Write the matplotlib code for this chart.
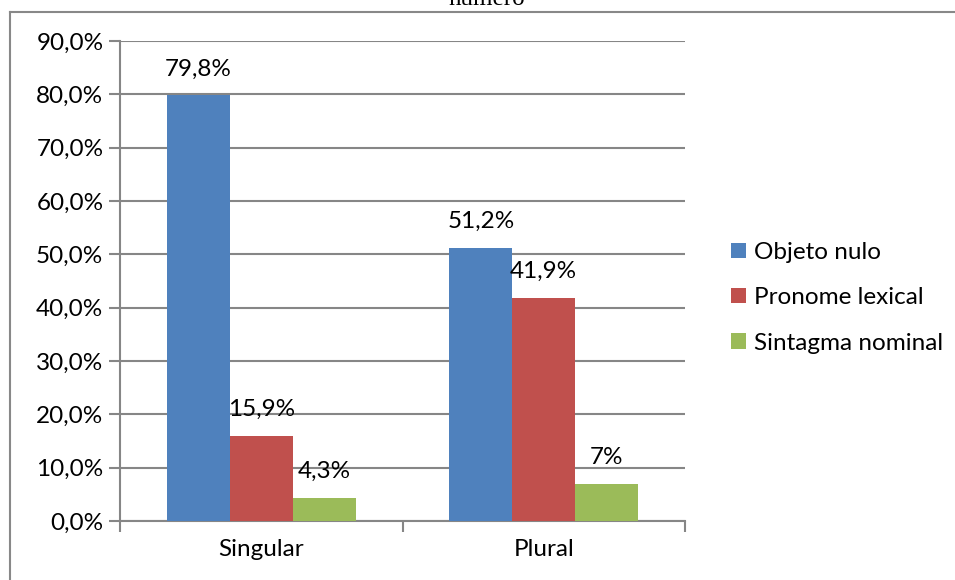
import matplotlib.pyplot as plt
import numpy as np
from matplotlib.lines import Line2D

plt.rcParams['font.family'] = ['Lato', 'DejaVu Sans']

categories = ["Singular", "Plural"]
series = ["Objeto nulo", "Pronome lexical", "Sintagma nominal"]
objeto_nulo = [79.8, 51.2]
pronome_lexical = [15.9, 41.9]
sintagma_nominal = [4.3, 7.0]
labels = [["79,8%", "51,2%"], ["15,9%", "41,9%"], ["4,3%", "7%"]]
colors = ["#4F81BD", "#C0504D", "#9BBB59"]
yticks = [0, 10, 20, 30, 40, 50, 60, 70, 80, 90]

values = [objeto_nulo, pronome_lexical, sintagma_nominal]
fs = 17.5

fig = plt.figure(figsize=(9.55, 5.8), dpi=100)
ax = fig.add_axes([0.1257, 0.1017, 0.5916, 0.8276])

x = np.arange(len(categories))
w = 0.223
for i, vals in enumerate(values):
    pos = x + (i - 1) * w
    ax.bar(pos, vals, w, color=colors[i], label=series[i], zorder=3)
    for p, v, lab in zip(pos, vals, labels[i]):
        ax.annotate(lab, (p, v), xytext=(0, 19), textcoords="offset points",
                    ha="center", va="center", fontsize=fs)

ax.set_xlim(-0.5, 1.5)
ax.set_ylim(0, 90)
ax.set_yticks(yticks)
ax.set_yticklabels([f"{t},0%" for t in yticks], fontsize=fs)
ax.set_xticks(x)
ax.set_xticklabels(categories, fontsize=fs)
ax.set_xticks([-0.5, 0.5, 1.5], minor=True)
ax.tick_params(axis="x", which="major", length=0, pad=13)
ax.tick_params(axis="x", which="minor", length=8, width=1.5, color="#868686")
ax.tick_params(axis="y", length=8, width=1.5, color="#868686", pad=4)
ax.yaxis.grid(True, color="#868686", lw=1.5, zorder=0)
for s in ["top", "right"]:
    ax.spines[s].set_visible(False)
for s in ["left", "bottom"]:
    ax.spines[s].set_color("#868686")
    ax.spines[s].set_linewidth(1.5)

ax.legend(loc="center left", bbox_to_anchor=(1.06, 0.465), frameon=False,
          fontsize=fs, handlelength=0.6, handleheight=0.6,
          handletextpad=0.35, labelspacing=1.0, borderpad=0)

# outer frame and clipped title
fig.add_artist(Line2D([0.0105, 0.0105], [0, 0.979], color="#888888", lw=1.5))
fig.add_artist(Line2D([0.0105, 1.0], [0.979, 0.979], color="#888888", lw=1.5))
fig.text(0.51, 0.9914, "número", ha="center", va="baseline", fontsize=18,
         family="Liberation Serif")

fig.savefig("out.png", dpi=100)
